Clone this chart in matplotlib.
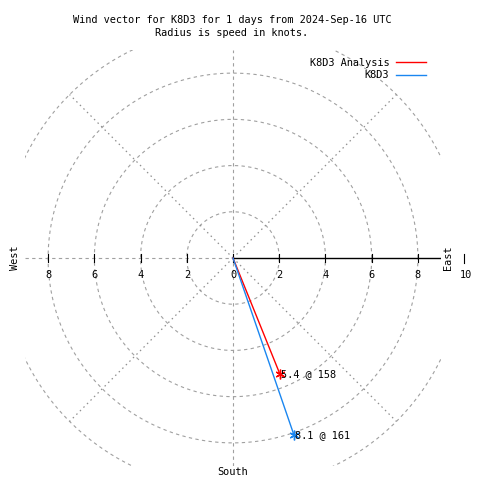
import numpy as np
import matplotlib
matplotlib.use('Agg')
import matplotlib.pyplot as plt

# wind vectors: speed (knots) and direction (degrees)
names = ['K8D3 Analysis', 'K8D3']
speeds = [5.4, 8.1]
directions = [158, 161]
colors = ['#ff0000', '#1a86f0']

rings = [2, 4, 6, 8, 10]
spokes = [45, 135, 225, 315]
ticks = [2, 4, 6, 8]

plt.rcParams['font.family'] = 'DejaVu Sans Mono'
plt.rcParams['font.size'] = 7.4

fig = plt.figure(figsize=(4.8, 4.8), dpi=100)
ax = fig.add_axes([25 / 480, 14 / 480, 416 / 480, 416 / 480])
ax.set_xlim(-9, 9)
ax.set_ylim(-9, 9)
ax.axis('off')

grid = '#a0a0a0'
t = np.linspace(0, 2 * np.pi, 400)
for r in rings:
    ax.plot(r * np.cos(t), r * np.sin(t), color=grid, lw=0.8, ls=(0, (3, 3)))
for a in spokes:
    ar = np.radians(a)
    ax.plot([0, 10 * np.cos(ar)], [0, 10 * np.sin(ar)], color='#909090', lw=0.9, ls=(0, (1.2, 2.8)))
ax.plot([0, 0], [-9, 9], color=grid, lw=0.8, ls=(0, (3, 3)))
ax.plot([-9, 0], [0, 0], color=grid, lw=0.8, ls=(0, (3, 3)))
ax.plot([0, 9], [0, 0], color='black', lw=1.0)

for v in ticks:
    for s in (-1, 1):
        ax.plot([s * v, s * v], [-0.17, 0.17], color='black', lw=0.8)
        ax.text(s * v, -0.5, str(v), ha='center', va='top')
ax.plot([0, 0], [-0.17, 0.17], color='black', lw=0.8)
ax.text(0.04, -0.5, '0', ha='center', va='top')
ax.plot([10, 10], [-0.2, 0.17], color='black', lw=0.8, clip_on=False)
ax.text(10.1, -0.5, '10', ha='center', va='top', clip_on=False)

ax.text(9.3, 0, 'East', rotation=90, ha='center', va='center', clip_on=False)
ax.text(-9.45, 0, 'West', rotation=90, ha='center', va='center', clip_on=False)
ax.text(0, -9.05, 'South', ha='center', va='top', clip_on=False)

for name, spd, d, c in zip(names, speeds, directions, colors):
    x = spd * np.sin(np.radians(d))
    y = spd * np.cos(np.radians(d))
    ax.plot([0, x], [0, y], color=c, lw=1.0, label=name)
    ax.plot([x], [y], color=c, marker=(6, 2, 0), ms=7, mew=1.0)
    ax.text(x + 0.05, y, '%.1f @ %d' % (spd, d), ha='left', va='center')

ax.legend(loc='upper right', bbox_to_anchor=(0.977, 0.993), frameon=False,
          markerfirst=False, handlelength=2.9, handletextpad=0.7,
          labelspacing=0.2, borderpad=0)

fig.text(0.483, 1 - 26.5 / 480, 'Wind vector for K8D3 for 1 days from 2024-Sep-16 UTC\nRadius is speed in knots.',
         ha='center', va='center', linespacing=1.3)

fig.savefig('out.png')
